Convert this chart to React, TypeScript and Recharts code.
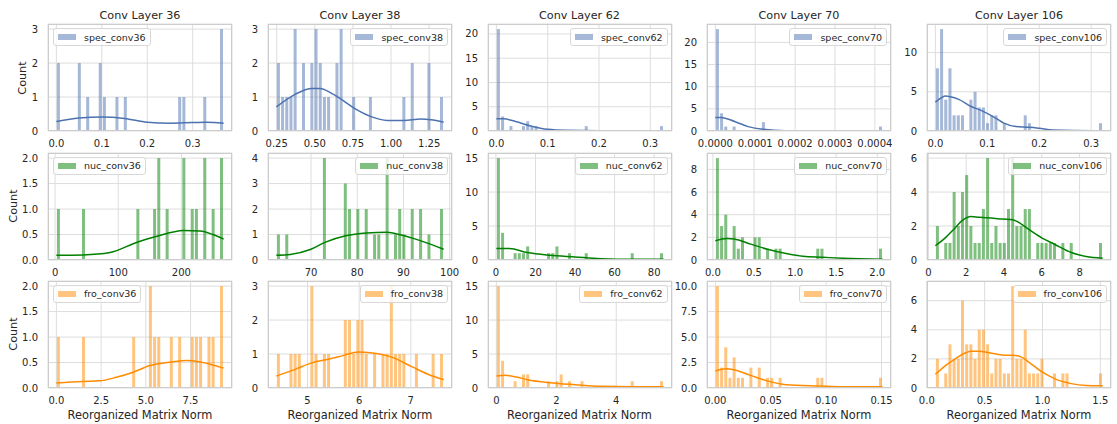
import React from 'react';
import { ComposedChart, LineChart, Bar, Line, XAxis, YAxis, CartesianGrid } from 'recharts';

const layers = [36, 38, 62, 70, 106];
const normKinds = ['spec', 'nuc', 'fro'];
const kindColors = ['#4c72b0', '#008000', '#ff8c00'];

// ---- Conv 36 ----
const spec36Range = [0.0, 0.368];
const spec36Counts = [2,0,0,0,0,2,0,1,0,0, 2,1,0,0,1,0,1,0,0,0, 0,0,0,0,0,0,0,0,0,1, 1,0,0,0,0,1,0,0,0,3];
const spec36KdeX = [0.0, 0.05, 0.1, 0.15, 0.2, 0.25, 0.3, 0.33, 0.368];
const spec36KdeY = [0.28, 0.38, 0.41, 0.37, 0.26, 0.23, 0.25, 0.26, 0.23];
const spec36XTicks = [0, 0.1, 0.2, 0.3];
const spec36YTicks = [0, 1, 2, 3];

const nuc36Range = [2, 267];
const nuc36Counts = [1,0,0,0,0,0,1,0,0,0, 0,0,0,0,0,0,0,0,0,1, 0,0,0,1,2,0,1,0,0,0, 2,0,1,1,0,2,0,1,0,2];
const nuc36KdeX = [2, 44, 87, 130, 157, 204, 230, 250, 267];
const nuc36KdeY = [0.093, 0.1, 0.147, 0.35, 0.45, 0.58, 0.57, 0.5, 0.41];
const nuc36XTicks = [0, 100, 200];
const nuc36YTicks = [0, 0.5, 1, 1.5, 2];

const fro36Range = [0.0, 9.35];
const fro36Counts = [1,0,0,0,0,0,1,0,0,0, 0,0,0,0,0,0,0,0,1,0, 0,0,2,1,1,0,0,1,0,1, 0,0,1,1,1,0,1,1,0,2];
const fro36KdeX = [0.0, 1.47, 2.4, 3.35, 4.29, 5.23, 6.39, 7.3, 8.05, 9.35];
const fro36KdeY = [0.1, 0.13, 0.14, 0.21, 0.31, 0.44, 0.51, 0.54, 0.51, 0.39];
const fro36XTicks = [0, 2.5, 5, 7.5];
const fro36YTicks = [0, 0.5, 1, 1.5, 2];

// ---- Conv 38 ----
const spec38Range = [0.248, 1.345];
const spec38Counts = [2,1,1,1,3,0,2,0,2,3, 2,1,1,0,2,3,0,0,1,0, 0,0,1,0,0,0,0,0,0,0, 1,0,2,0,0,0,2,0,0,1];
const spec38KdeX = [0.248, 0.371, 0.481, 0.536, 0.602, 0.674, 0.755, 0.865, 0.975, 1.085, 1.195, 1.261, 1.345];
const spec38KdeY = [0.71, 1.08, 1.25, 1.25, 1.13, 0.93, 0.68, 0.43, 0.31, 0.31, 0.35, 0.33, 0.26];
const spec38XTicks = [0.25, 0.5, 0.75, 1.0, 1.25];
const spec38YTicks = [0, 1, 2, 3];

const nuc38Range = [62.5, 98.7];
const nuc38Counts = [1,0,1,0,0,0,0,0,0,0, 0,4,0,0,0,0,3,2,0,2, 0,2,0,1,1,0,4,0,1,2, 1,0,2,0,2,0,1,0,0,2];
const nuc38KdeX = [62.5, 65.5, 70, 73, 77.5, 82, 86.5, 89.3, 93.8, 98.7];
const nuc38KdeY = [0.19, 0.22, 0.42, 0.69, 0.95, 1.06, 1.09, 0.99, 0.75, 0.42];
const nuc38XTicks = [70, 80, 90, 100];
const nuc38YTicks = [0, 1, 2, 3, 4];

const fro38Range = [4.396, 7.636];
const fro38Counts = [1,0,0,1,1,1,0,0,3,1, 0,1,1,0,0,0,2,2,1,2, 2,1,0,1,0,1,1,3,1,1, 1,0,0,1,0,0,0,1,0,1];
const fro38KdeX = [4.396, 4.79, 5.08, 5.44, 5.7, 5.98, 6.22, 6.63, 7.03, 7.39, 7.636];
const fro38KdeY = [0.35, 0.57, 0.74, 0.86, 0.96, 1.06, 1.04, 0.91, 0.62, 0.37, 0.25];
const fro38XTicks = [5, 6, 7];
const fro38YTicks = [0, 1, 2, 3];

// ---- Conv 62 ----
const spec62Range = [0.0, 0.326];
const spec62Counts = [21,3,0,1,0,0,1,2,1,1, 0,0,0,0,0,0,0,0,0,0, 0,1,0,0,0,0,0,0,0,0, 0,0,0,0,0,0,0,0,0,1];
const spec62KdeX = [0.0, 0.0145, 0.0375, 0.067, 0.1, 0.136, 0.2, 0.268, 0.326];
const spec62KdeY = [2.5, 2.5, 1.94, 1.04, 0.35, 0.14, 0.07, 0.07, 0.07];
const spec62XTicks = [0, 0.1, 0.2, 0.3];
const spec62YTicks = [0, 5, 10, 15, 20];

const nuc62Range = [0.2, 84.8];
const nuc62Counts = [15,4,0,0,1,1,1,2,0,0, 0,0,1,1,2,0,0,1,0,0, 0,1,0,0,0,0,0,0,0,0, 0,0,1,0,0,0,0,0,0,1];
const nuc62KdeX = [0.2, 6.8, 15.8, 27.2, 40, 52.8, 69.8, 84.8];
const nuc62KdeY = [1.69, 1.69, 1.09, 0.7, 0.45, 0.2, 0.1, 0.1];
const nuc62XTicks = [0, 20, 40, 60, 80];
const nuc62YTicks = [0, 5, 10, 15];

const fro62Range = [0.0, 5.58];
const fro62Counts = [15,4,0,0,1,0,2,2,0,0, 0,0,1,0,1,2,0,1,0,0, 1,0,0,0,0,0,0,0,0,0, 0,0,1,0,0,0,0,0,0,1];
const fro62KdeX = [0.0, 0.28, 0.67, 1.04, 1.79, 2.63, 3.47, 4.59, 5.58];
const fro62KdeY = [1.76, 1.86, 1.62, 1.23, 0.78, 0.49, 0.25, 0.2, 0.2];
const fro62XTicks = [0, 2, 4];
const fro62YTicks = [0, 5, 10, 15];

// ---- Conv 70 ----
const spec70Range = [0.0, 0.0004195];
const spec70Counts = [23,4,1,0,1,0,0,0,0,0, 0,2,0,0,0,0,0,0,0,0, 0,0,0,0,0,0,0,0,0,0, 0,0,0,0,0,0,0,0,0,1];
const spec70KdeX = [0.0, 0.0000144, 0.0000483, 0.0000822, 0.000119, 0.000175, 0.0004195];
const spec70KdeY = [3.05, 3.05, 2.14, 0.99, 0.38, 0.08, 0.08];
const spec70XTicks = [0, 0.0001, 0.0002, 0.0003, 0.0004];
const spec70YTicks = [0, 5, 10, 15, 20];

const nuc70Range = [0.03, 2.065];
const nuc70Counts = [9,3,4,0,3,1,2,0,0,2, 2,0,1,0,1,1,0,0,0,0, 0,0,0,0,1,1,0,0,0,0, 0,0,0,0,0,0,0,0,0,1];
const nuc70KdeX = [0.03, 0.176, 0.257, 0.461, 0.665, 0.89, 1.094, 1.34, 1.58, 2.065];
const nuc70KdeY = [1.7, 1.9, 1.85, 1.4, 0.95, 0.57, 0.33, 0.24, 0.15, 0.06];
const nuc70XTicks = [0, 0.5, 1, 1.5, 2];
const nuc70YTicks = [0, 2, 4, 6, 8];

const fro70Range = [0.0, 0.151];
const fro70Counts = [10,2,4,1,3,1,1,0,2,0, 2,0,1,1,0,1,0,0,0,0, 0,0,0,0,1,1,0,0,0,0, 0,0,0,0,0,0,0,0,0,1];
const fro70KdeX = [0.0, 0.0091, 0.0167, 0.0318, 0.0485, 0.0636, 0.094, 0.115, 0.151];
const fro70KdeY = [1.67, 1.9, 1.8, 1.24, 0.65, 0.33, 0.2, 0.13, 0.13];
const fro70XTicks = [0, 0.05, 0.1, 0.15];
const fro70YTicks = [0, 2.5, 5, 7.5, 10];

// ---- Conv 106 ----
const spec106Range = [0.0, 0.322];
const spec106Counts = [8,13,4,8,2,2,2,0,4,5, 3,3,1,2,2,0,1,0,0,0, 0,2,1,0,0,0,0,0,0,0, 0,0,0,0,0,0,0,0,0,1];
const spec106KdeX = [0.0, 0.0116, 0.0194, 0.029, 0.045, 0.068, 0.092, 0.116, 0.132, 0.155, 0.181, 0.2, 0.226, 0.322];
const spec106KdeY = [3.68, 4.24, 4.46, 4.37, 4.03, 3.16, 2.51, 1.65, 1.0, 0.56, 0.48, 0.35, 0.13, 0.04];
const spec106XTicks = [0, 0.1, 0.2, 0.3];
const spec106YTicks = [0, 5, 10];

const nuc106Range = [0.37, 9.22];
const nuc106Counts = [2,0,1,1,4,2,4,5,2,1, 1,3,6,1,2,1,1,3,6,2, 2,3,3,0,1,1,1,1,1,0, 1,0,1,0,0,0,0,0,0,1];
const nuc106KdeX = [0.37, 0.92, 1.36, 1.8, 2.25, 2.69, 3.13, 3.93, 4.46, 4.9, 5.35, 6.02, 6.67, 7.56, 8.35, 9.22];
const nuc106KdeY = [0.84, 1.33, 1.83, 2.33, 2.56, 2.52, 2.49, 2.41, 2.37, 2.13, 1.77, 1.29, 0.93, 0.44, 0.2, 0.1];
const nuc106XTicks = [0, 2, 4, 6, 8];
const nuc106YTicks = [0, 2, 4, 6];

const fro106Range = [0.074, 1.52];
const fro106Counts = [2,0,1,3,2,2,6,3,3,2, 4,4,3,1,2,2,1,1,7,2, 2,4,1,1,1,2,0,0,1,0, 1,1,0,0,0,0,0,0,0,1];
const fro106KdeX = [0.074, 0.165, 0.237, 0.309, 0.382, 0.454, 0.526, 0.598, 0.67, 0.743, 0.815, 0.887, 0.997, 1.104, 1.249, 1.379, 1.52];
const fro106KdeY = [0.94, 1.56, 1.95, 2.32, 2.53, 2.53, 2.44, 2.34, 2.25, 2.25, 2.14, 1.75, 1.1, 0.64, 0.3, 0.18, 0.16];
const fro106XTicks = [0, 0.5, 1, 1.5];
const fro106YTicks = [0, 2, 4, 6];

type PanelData = {
  range: number[]; counts: number[]; kdeX: number[]; kdeY: number[];
  xTicks: number[]; xDec: number; yTicks: number[]; yDec: number;
};
const mk = (range: number[], counts: number[], kdeX: number[], kdeY: number[], xTicks: number[], xDec: number, yTicks: number[], yDec: number): PanelData =>
  ({ range, counts, kdeX, kdeY, xTicks, xDec, yTicks, yDec });

const panelRows: PanelData[][] = [
  [
    mk(spec36Range, spec36Counts, spec36KdeX, spec36KdeY, spec36XTicks, 1, spec36YTicks, 0),
    mk(spec38Range, spec38Counts, spec38KdeX, spec38KdeY, spec38XTicks, 2, spec38YTicks, 0),
    mk(spec62Range, spec62Counts, spec62KdeX, spec62KdeY, spec62XTicks, 1, spec62YTicks, 0),
    mk(spec70Range, spec70Counts, spec70KdeX, spec70KdeY, spec70XTicks, 4, spec70YTicks, 0),
    mk(spec106Range, spec106Counts, spec106KdeX, spec106KdeY, spec106XTicks, 1, spec106YTicks, 0),
  ],
  [
    mk(nuc36Range, nuc36Counts, nuc36KdeX, nuc36KdeY, nuc36XTicks, 0, nuc36YTicks, 1),
    mk(nuc38Range, nuc38Counts, nuc38KdeX, nuc38KdeY, nuc38XTicks, 0, nuc38YTicks, 0),
    mk(nuc62Range, nuc62Counts, nuc62KdeX, nuc62KdeY, nuc62XTicks, 0, nuc62YTicks, 0),
    mk(nuc70Range, nuc70Counts, nuc70KdeX, nuc70KdeY, nuc70XTicks, 1, nuc70YTicks, 0),
    mk(nuc106Range, nuc106Counts, nuc106KdeX, nuc106KdeY, nuc106XTicks, 0, nuc106YTicks, 0),
  ],
  [
    mk(fro36Range, fro36Counts, fro36KdeX, fro36KdeY, fro36XTicks, 1, fro36YTicks, 1),
    mk(fro38Range, fro38Counts, fro38KdeX, fro38KdeY, fro38XTicks, 0, fro38YTicks, 0),
    mk(fro62Range, fro62Counts, fro62KdeX, fro62KdeY, fro62XTicks, 0, fro62YTicks, 0),
    mk(fro70Range, fro70Counts, fro70KdeX, fro70KdeY, fro70XTicks, 2, fro70YTicks, 1),
    mk(fro106Range, fro106Counts, fro106KdeX, fro106KdeY, fro106XTicks, 1, fro106YTicks, 0),
  ],
];

// layout
const colLeft = [48, 268, 487.5, 707, 927];
const rowTop = [24, 152.5, 280.5];
const PW = 184;
const PH = 107;
const FONT = '"DejaVu Sans", Verdana, sans-serif';
const TEXT = '#262626';

function Panel({ p, color, label, left, top, legendLeft }: { p: PanelData; color: string; label: string; left: number; top: number; legendLeft: boolean }) {
  const AXW = 50, AXH = 25, PT = 5, PR = 16;
  const cw = PW + AXW + PR;
  const ch = PH + PT + AXH;
  const [lo, hi] = p.range;
  const span = hi - lo;
  const n = p.counts.length;
  const bins = p.counts.map((c, i) => ({ x: lo + (i + 0.5) * span / n, count: c }));
  const domain = [lo - 0.05 * span, hi + 0.05 * span];
  const yMax = Math.max(...p.counts) * 1.05;
  const kde = p.kdeX.map((x, i) => ({ x, y: p.kdeY[i] }));
  const tickStyle = { fill: TEXT, fontSize: 10, fontFamily: FONT };
  return (
    <div style={{ position: 'absolute', left: left - AXW, top: top - PT, width: cw, height: ch }}>
      <ComposedChart width={cw} height={ch} data={bins} margin={{ top: PT, right: PR, left: 0, bottom: 0 }} barCategoryGap="13%">
        <CartesianGrid stroke="#dddddd" strokeWidth={1} />
        <XAxis type="number" dataKey="x" domain={domain} ticks={p.xTicks} interval={0} allowDataOverflow
          tickFormatter={(v: number) => v.toFixed(p.xDec)} axisLine={false} tickLine={false}
          height={AXH} tickMargin={3} tick={tickStyle} />
        <YAxis type="number" domain={[0, yMax]} ticks={p.yTicks} interval={0} allowDataOverflow
          tickFormatter={(v: number) => v.toFixed(p.yDec)} axisLine={false} tickLine={false}
          width={AXW} tickMargin={4} tick={tickStyle} />
        <Bar dataKey="count" fill={color} fillOpacity={0.5} isAnimationActive={false} />
      </ComposedChart>
      <div style={{ position: 'absolute', left: 0, top: 0 }}>
        <LineChart width={cw} height={ch} data={kde} margin={{ top: PT, right: PR, left: AXW, bottom: AXH }}>
          <XAxis type="number" dataKey="x" domain={domain} hide allowDataOverflow />
          <YAxis type="number" domain={[0, yMax]} hide allowDataOverflow />
          <Line dataKey="y" type="monotone" stroke={color} strokeWidth={1.5} dot={false} isAnimationActive={false} />
        </LineChart>
      </div>
      <div style={{ position: 'absolute', left: AXW, top: PT, width: PW, height: PH, boxSizing: 'border-box', border: '1px solid #cccccc', pointerEvents: 'none' }} />
      <div style={{
        position: 'absolute', top: PT + 4, ...(legendLeft ? { left: AXW + 5 } : { right: PR + 4 }),
        height: 18, boxSizing: 'border-box', display: 'flex', alignItems: 'center', padding: '0 4px 0 4px',
        border: '1px solid #d8d8d8', borderRadius: 3, background: 'rgba(255,255,255,0.8)',
        fontFamily: FONT, fontSize: 9.5, color: TEXT, whiteSpace: 'nowrap',
      }}>
        <span style={{ display: 'inline-block', width: 18, height: 6, background: color, opacity: 0.5, marginRight: 8 }} />
        <span>{label}</span>
      </div>
    </div>
  );
}

export default function App() {
  const countX = [22.5, 13.5, 13.5];
  return (
    <div style={{ position: 'absolute', left: 0, top: 0, width: 1117, height: 424, background: '#ffffff', overflow: 'hidden', fontFamily: FONT }}>
      {layers.map((layer, c) => (
        <div key={'t' + c} style={{ position: 'absolute', left: colLeft[c], top: 9, width: PW, height: 14, lineHeight: '14px', textAlign: 'center', fontSize: 11.2, color: TEXT }}>
          {`Conv Layer ${layer}`}
        </div>
      ))}
      {panelRows.map((row, r) => row.map((p, c) => (
        <Panel key={r + '-' + c} p={p} color={kindColors[r]} label={`${normKinds[r]}_conv${layers[c]}`}
          left={colLeft[c]} top={rowTop[r]} legendLeft={c === 0} />
      )))}
      {rowTop.map((t, r) => (
        <div key={'y' + r} style={{ position: 'absolute', left: countX[r] - 30, top: t + PH / 2 - 7, width: 60, height: 14, lineHeight: '14px', textAlign: 'center', fontSize: 11.2, color: TEXT, transform: 'rotate(-90deg)' }}>
          Count
        </div>
      ))}
      {layers.map((layer, c) => (
        <div key={'x' + c} style={{ position: 'absolute', left: colLeft[c] - 20, top: 408, width: PW + 40, height: 14, lineHeight: '14px', textAlign: 'center', fontSize: 11.4, color: TEXT }}>
          Reorganized Matrix Norm
        </div>
      ))}
    </div>
  );
}
